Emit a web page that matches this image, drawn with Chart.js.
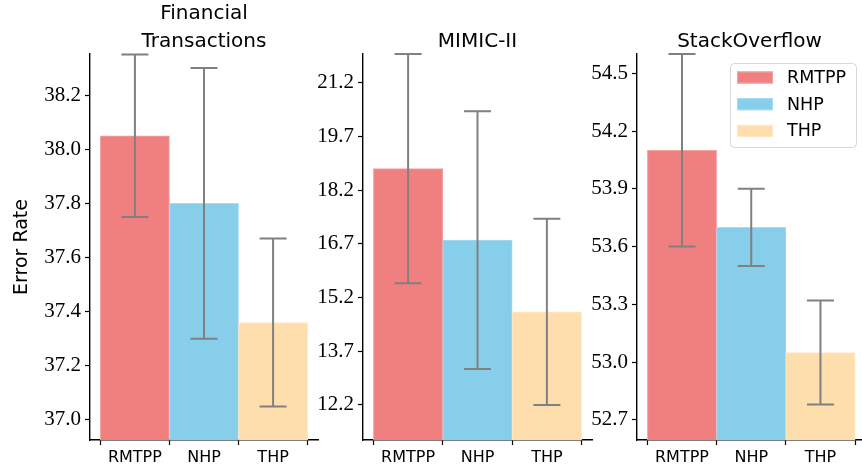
<!DOCTYPE html>
<html>
<head>
<meta charset="utf-8">
<script src="https://cdn.jsdelivr.net/npm/chart.js"></script>
<style>
  html, body { margin: 0; padding: 0; background: #fff; }
  #wrap { position: relative; width: 862px; height: 474px; overflow: hidden; }
  .panel { position: absolute; top: 0; height: 474px; }
</style>
</head>
<body>
<div id="wrap">
  <div class="panel" style="left:0;width:320px"><canvas id="c_fin"></canvas></div>
  <div class="panel" style="left:280px;width:314px"><canvas id="c_mimic"></canvas></div>
  <div class="panel" style="left:554px;width:308px"><canvas id="c_so"></canvas></div>
</div>
<script>
const models = ["RMTPP", "NHP", "THP"];
const modelColors = ["#f08080", "#87ceeb", "#ffdead"];
const modelEdges = ["#f4a3a3", "#a6dbf0", "#ffe8c4"];

const finMeans = [38.05, 37.80, 37.36];
const finErrs = [0.30, 0.50, 0.31];
const finTicks = [37.0, 37.2, 37.4, 37.6, 37.8, 38.0, 38.2];

const mimicMeans = [18.8, 16.8, 14.8];
const mimicErrs = [3.2, 3.6, 2.6];
const mimicTicks = [12.2, 13.7, 15.2, 16.7, 18.2, 19.7, 21.2];

const soMeans = [54.1, 53.7, 53.05];
const soErrs = [0.5, 0.2, 0.27];
const soTicks = [52.7, 53.0, 53.3, 53.6, 53.9, 54.2, 54.5];

const SANS = "DejaVu Sans";
const SERIF = "Liberation Serif";

// grey error bars, placed with the chart's own scales
const errorBars = {
    id: "errorBars",
    afterDatasetsDraw(chart, args, opts) {
        const { ctx, scales } = chart;
        const means = opts.means, errs = opts.errs;
        ctx.save();
        ctx.strokeStyle = "#808080";
        ctx.lineWidth = 2;
        means.forEach((m, i) => {
            const x = scales.x.getPixelForValue(i);
            const yTop = scales.y.getPixelForValue(m + errs[i]);
            const yBot = scales.y.getPixelForValue(m - errs[i]);
            ctx.beginPath();
            ctx.moveTo(x, yTop); ctx.lineTo(x, yBot);
            ctx.moveTo(x - 13.5, yTop); ctx.lineTo(x + 13.5, yTop);
            ctx.moveTo(x - 13.5, yBot); ctx.lineTo(x + 13.5, yBot);
            ctx.stroke();
        });
        ctx.restore();
    }
};

const panelTitle = {
    id: "panelTitle",
    afterDraw(chart, args, opts) {
        const { ctx, chartArea } = chart;
        const cx = (chartArea.left + chartArea.right) / 2;
        ctx.save();
        ctx.fillStyle = "#000";
        ctx.font = "20px " + SANS;
        ctx.textAlign = "center";
        ctx.textBaseline = "alphabetic";
        const lines = opts.lines || [];
        lines.forEach((t, i) => {
            ctx.fillText(t, cx, 46.5 - (lines.length - 1 - i) * 28);
        });
        ctx.restore();
    }
};

const boxLegend = {
    id: "boxLegend",
    afterDraw(chart, args, opts) {
        if (!opts.show) return;
        const { ctx, chartArea } = chart;
        const w = 126, h = 84;
        const left = chartArea.right - 132, top = chartArea.top + 9;
        ctx.save();
        ctx.fillStyle = "rgba(255,255,255,0.8)";
        ctx.strokeStyle = "#d6d6d6";
        ctx.lineWidth = 1;
        ctx.beginPath();
        ctx.roundRect(left + 0.5, top + 0.5, w, h, 4);
        ctx.fill();
        ctx.stroke();
        ctx.font = "17.5px " + SANS;
        ctx.textBaseline = "middle";
        models.forEach((name, i) => {
            const cy = top + 14.5 + i * 26.7;
            ctx.fillStyle = modelColors[i];
            ctx.fillRect(left + 7, cy - 6, 36, 12);
            ctx.strokeStyle = modelEdges[i];
            ctx.strokeRect(left + 7.5, cy - 5.5, 35, 11);
            ctx.fillStyle = "#000";
            ctx.fillText(name, left + 57, cy + 1);
        });
        ctx.restore();
    }
};

function makePanel(id, cfg) {
    const canvas = document.getElementById(id);
    return new Chart(canvas, {
        type: "bar",
        data: {
            datasets: [{
                data: cfg.means.map((v, i) => ({ x: i, y: v })),
                backgroundColor: modelColors,
                borderColor: modelEdges,
                borderWidth: 1,
                borderSkipped: "bottom",
                barPercentage: 1,
                categoryPercentage: 1
            }]
        },
        options: {
            responsive: true,
            maintainAspectRatio: false,
            animation: false,
            devicePixelRatio: 1,
            layout: { padding: { top: 54, right: cfg.padRight, bottom: 0, left: 0 } },
            plugins: {
                legend: { display: false },
                tooltip: { enabled: false },
                errorBars: { means: cfg.means, errs: cfg.errs },
                panelTitle: { lines: cfg.title },
                boxLegend: { show: !!cfg.legend }
            },
            scales: {
                x: {
                    type: "linear",
                    min: -0.65,
                    max: cfg.xMax,
                    offset: false,
                    afterBuildTicks: (s) => { s.ticks = models.map((_, i) => ({ value: i })); },
                    afterFit: (s) => { s.height = 34; },
                    grid: { drawOnChartArea: false, tickColor: "#000", tickLength: 5, tickWidth: 1.2 },
                    border: { display: true, color: "#000", width: 1.4 },
                    ticks: {
                        autoSkip: false,
                        maxRotation: 0,
                        padding: 3,
                        color: "#000",
                        font: { family: SANS, size: 16 },
                        callback: (v) => models[v] || ""
                    }
                },
                y: {
                    min: cfg.yMin,
                    max: cfg.yMax,
                    afterBuildTicks: (s) => { s.ticks = cfg.ticks.map((v) => ({ value: v })); },
                    afterFit: (s) => { s.width = cfg.yWidth; },
                    grid: { drawOnChartArea: false, tickColor: "#000", tickLength: 5, tickWidth: 1.2 },
                    border: { display: true, color: "#000", width: 1.4 },
                    title: {
                        display: !!cfg.yTitle,
                        text: cfg.yTitle || "",
                        color: "#000",
                        font: { family: SANS, size: 19 },
                        padding: { top: 11, bottom: 0 }
                    },
                    ticks: {
                        autoSkip: false,
                        padding: 4,
                        color: "#000",
                        font: { family: SERIF, size: 21 },
                        callback: (v) => Number(v).toFixed(1)
                    }
                }
            }
        },
        plugins: [errorBars, panelTitle, boxLegend]
    });
}

makePanel("c_fin", {
    means: finMeans, errs: finErrs, ticks: finTicks,
    yMin: 36.926, yMax: 38.352, yWidth: 90, padRight: 2, xMax: 2.65,
    title: ["Financial", "Transactions"], yTitle: "Error Rate"
});
makePanel("c_mimic", {
    means: mimicMeans, errs: mimicErrs, ticks: mimicTicks,
    yMin: 11.22, yMax: 22.0, yWidth: 83, padRight: 2, xMax: 2.65,
    title: ["MIMIC-II"]
});
makePanel("c_so", {
    means: soMeans, errs: soErrs, ticks: soTicks,
    yMin: 52.596, yMax: 54.6, yWidth: 83, padRight: 0, xMax: 2.6,
    title: ["StackOverflow"], legend: true
});
</script>
</body>
</html>
